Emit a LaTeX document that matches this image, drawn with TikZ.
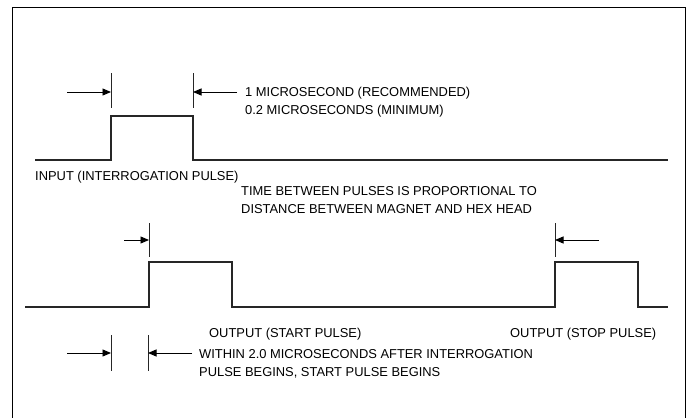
\documentclass[tikz,border=0pt]{standalone}
\usepackage{fontspec}
\setmainfont{Liberation Sans}
\usetikzlibrary{arrows.meta}
\begin{document}
\begin{tikzpicture}[x=1pt,y=-1pt,
  sig/.style={line width=1.1pt,draw=black!85},
  tick/.style={line width=1pt,draw=black!85},
  dim/.style={line width=0.9pt,-{Triangle[length=8.5pt,width=7pt]}},
  lbl/.style={anchor=west,inner sep=0pt,font=\fontsize{12.9}{18}\selectfont,align=left}]
\useasboundingbox (0,0) rectangle (689,418);
\draw[line width=1pt] (12,430) -- (12,7) -- (685,7) -- (685,430);
% input pulse
\draw[sig] (35,160) -- (111,160) -- (111,116) -- (193,116) -- (193,160) -- (668,160);
\coordinate (t1a) at (111,73); \coordinate (t1b) at (111,108);
\coordinate (t2a) at (193,73); \coordinate (t2b) at (193,108);
\draw[tick] (t1a) -- (t1b);
\draw[tick] (t2a) -- (t2b);
\coordinate (a1s) at (67,92); \coordinate (a1e) at (111,92);
\coordinate (a2s) at (237,92); \coordinate (a2e) at (193,92);
\draw[dim] (a1s) -- (a1e);
\draw[dim] (a2s) -- (a2e);
\node[lbl] (rec) at (245,102.5) {1 MICROSECOND (RECOMMENDED)\\0.2 MICROSECONDS (MINIMUM)};
\node[lbl] (inp) at (35,177) {INPUT (INTERROGATION PULSE)};
\node[lbl] (tbp) at (241,200) {TIME BETWEEN PULSES IS PROPORTIONAL TO\\DISTANCE BETWEEN MAGNET AND HEX HEAD};
% output pulses
\draw[sig] (25,307) -- (149,307) -- (149,262) -- (232,262) -- (232,307) -- (555,307) -- (555,262) -- (638,262) -- (638,307) -- (668,307);
\coordinate (t3a) at (149,223); \coordinate (t3b) at (149,257);
\coordinate (t4a) at (555,223); \coordinate (t4b) at (555,257);
\draw[tick] (t3a) -- (t3b);
\draw[tick] (t4a) -- (t4b);
\coordinate (a3s) at (124,240); \coordinate (a3e) at (149,240);
\coordinate (a4s) at (599,240); \coordinate (a4e) at (555,240);
\draw[dim] (a3s) -- (a3e);
\draw[dim] (a4s) -- (a4e);
\node[lbl] (start) at (209,334) {OUTPUT (START PULSE)};
\node[lbl] (stop) at (510,334) {OUTPUT (STOP PULSE)};
% bottom dimension
\coordinate (t5a) at (111,335); \coordinate (t5b) at (111,371);
\coordinate (t6a) at (148,335); \coordinate (t6b) at (148,371);
\draw[tick] (t5a) -- (t5b);
\draw[tick] (t6a) -- (t6b);
\coordinate (a5s) at (67,353); \coordinate (a5e) at (111,353);
\coordinate (a6s) at (192,353); \coordinate (a6e) at (148,353);
\draw[dim] (a5s) -- (a5e);
\draw[dim] (a6s) -- (a6e);
\node[lbl] (within) at (199,363.5) {WITHIN 2.0 MICROSECONDS AFTER INTERROGATION\\PULSE BEGINS, START PULSE BEGINS};
\end{tikzpicture}
\end{document}
